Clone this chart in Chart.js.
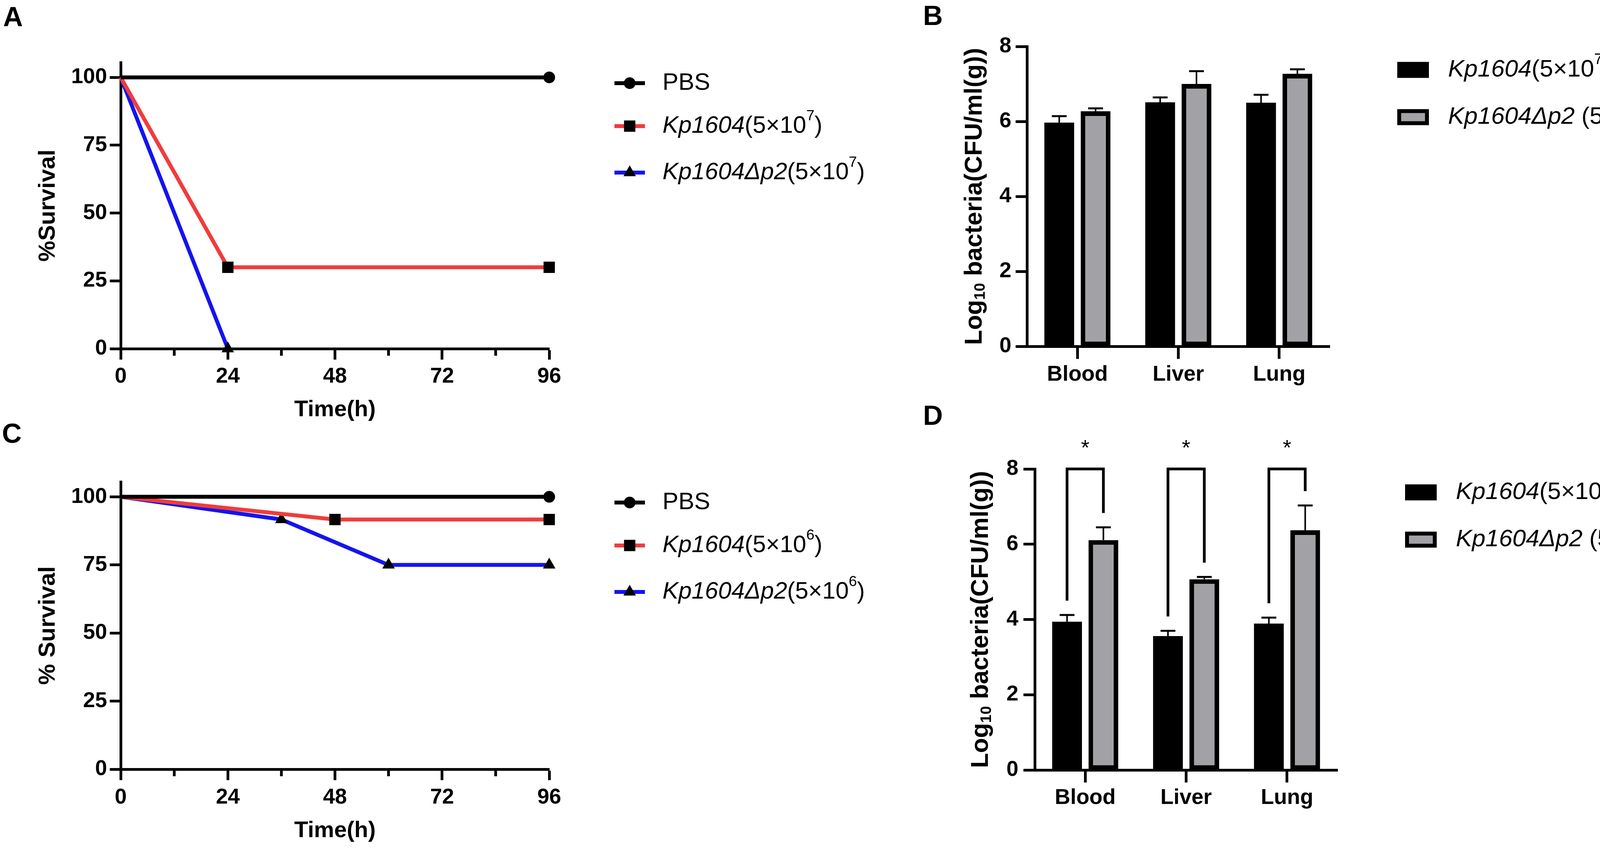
<!DOCTYPE html>
<html>
<head>
<meta charset="utf-8">
<script src="https://cdn.jsdelivr.net/npm/chart.js@4.4.1/dist/chart.umd.min.js"></script>
<style>
  html, body { margin: 0; padding: 0; background: #fff; }
  body { position: relative; width: 4317px; height: 2182px; overflow: hidden; font-family: "Liberation Sans", Arial, sans-serif; }
  canvas { position: absolute; }
  .tag { position: absolute; font-weight: bold; font-size: 70px; line-height: 70px; color: #000; }
</style>
</head>
<body>
<div class="tag" style="left:8px;top:8px">A</div>
<div class="tag" style="left:2363px;top:5px">B</div>
<div class="tag" style="left:5px;top:1075px">C</div>
<div class="tag" style="left:2363px;top:1029px">D</div>

<canvas id="chartA" width="2350" height="1090" style="left:0;top:0;width:2350px;height:1090px"></canvas>
<canvas id="chartB" width="1957" height="1090" style="left:2360px;top:0;width:1957px;height:1090px"></canvas>
<canvas id="chartC" width="2350" height="1092" style="left:0;top:1090px;width:2350px;height:1092px"></canvas>
<canvas id="chartD" width="1957" height="1092" style="left:2360px;top:1090px;width:1957px;height:1092px"></canvas>

<script>
const FAMILY = "'Liberation Sans', Arial, sans-serif";

// axis ticks
const timeTicks = [0, 24, 48, 72, 96];
const timeMinorTicks = [12, 36, 60, 84];
const survivalTicks = [0, 25, 50, 75, 100];
const cfuTicks = [0, 2, 4, 6, 8];
const organs = ['Blood', 'Liver', 'Lung'];

// A: survival, 5x10^7 challenge
const pbsA_h = [0, 96];        const pbsA_s = [100, 100];
const kpA_h = [0, 24, 96];     const kpA_s = [100, 30, 30];
const dp2A_h = [0, 24];        const dp2A_s = [100, 0];

// C: survival, 5x10^6 challenge
const pbsC_h = [0, 96];          const pbsC_s = [100, 100];
const kpC_h = [0, 48, 96];       const kpC_s = [100, 91.67, 91.67];
const dp2C_h = [0, 36, 60, 96];  const dp2C_s = [100, 91.67, 75, 75];

// B: bacterial load, 5x10^7 (mean, SEM)
const kpB_mean = [5.97, 6.51, 6.50];   const kpB_sem = [0.17, 0.13, 0.21];
const dp2B_mean = [6.27, 7.00, 7.27];  const dp2B_sem = [0.08, 0.34, 0.12];

// D: bacterial load, 5x10^6 (mean, SEM)
const kpD_mean = [3.94, 3.56, 3.89];   const kpD_sem = [0.18, 0.14, 0.16];
const dp2D_mean = [6.11, 5.07, 6.37];  const dp2D_sem = [0.34, 0.06, 0.66];
const sigD = ['*', '*', '*'];

// legend texts (runs: i = italic, sup = superscript)
const legendA = [
  [{t: 'PBS'}],
  [{t: 'Kp1604', i: 1}, {t: '(5×10'}, {t: '7', sup: 1}, {t: ')'}],
  [{t: 'Kp1604Δp2', i: 1}, {t: '(5×10'}, {t: '7', sup: 1}, {t: ')'}]
];
const legendC = [
  [{t: 'PBS'}],
  [{t: 'Kp1604', i: 1}, {t: '(5×10'}, {t: '6', sup: 1}, {t: ')'}],
  [{t: 'Kp1604Δp2', i: 1}, {t: '(5×10'}, {t: '6', sup: 1}, {t: ')'}]
];
const legendB = [
  [{t: 'Kp1604', i: 1}, {t: '(5×10'}, {t: '7', sup: 1}, {t: ')'}],
  [{t: 'Kp1604Δp2', i: 1}, {t: ' (5×10'}, {t: '7', sup: 1}, {t: ')'}]
];
const legendD = [
  [{t: 'Kp1604', i: 1}, {t: '(5×10'}, {t: '6', sup: 1}, {t: ')'}],
  [{t: 'Kp1604Δp2', i: 1}, {t: ' (5×10'}, {t: '6', sup: 1}, {t: ')'}]
];
const cfuTitle = [{t: 'Log'}, {t: '10', sub: 1}, {t: ' bacteria(CFU/ml(g))'}];

const RED = '#f03c3c';
const BLUE = '#1414ee';
const GRAY = '#a2a1a6';

const tickFont = { family: FAMILY, size: 55, weight: 'bold' };
const titleFont = { family: FAMILY, size: 58, weight: 'bold' };

// draw a row of mixed-style text; y is the vertical middle
function drawRuns(ctx, runs, x, y, size, bold, align) {
  const parts = runs.map(r => {
    const s = (r.sup || r.sub) ? size * 0.62 : size;
    const font = (r.i ? 'italic ' : '') + (bold ? 'bold ' : '') + s + 'px ' + FAMILY;
    ctx.font = font;
    return { r, font, w: ctx.measureText(r.t).width, dy: r.sup ? -size * 0.42 : (r.sub ? size * 0.22 : 0) };
  });
  const total = parts.reduce((a, p) => a + p.w, 0);
  let cx = align === 'center' ? x - total / 2 : x;
  ctx.textAlign = 'left';
  ctx.textBaseline = 'middle';
  ctx.fillStyle = '#000';
  parts.forEach(p => {
    ctx.font = p.font;
    ctx.fillText(p.r.t, cx, y + p.dy);
    cx += p.w;
  });
}

function drawMarker(ctx, style, x, y, r) {
  ctx.beginPath();
  if (style === 'circle') {
    ctx.arc(x, y, r, 0, Math.PI * 2);
  } else if (style === 'rect') {
    const h = Math.SQRT1_2 * r;
    ctx.rect(x - h, y - h, 2 * h, 2 * h);
  } else {
    let a = 0;
    ctx.moveTo(x + Math.sin(a) * r, y - Math.cos(a) * r);
    a += Math.PI * 2 / 3;
    ctx.lineTo(x + Math.sin(a) * r, y - Math.cos(a) * r);
    a += Math.PI * 2 / 3;
    ctx.lineTo(x + Math.sin(a) * r, y - Math.cos(a) * r);
    ctx.closePath();
  }
  ctx.fillStyle = '#000';
  ctx.fill();
}

// shorter unlabeled ticks between the hour labels
const minorTicks = {
  id: 'minorTicks',
  afterDraw(chart) {
    const { ctx, chartArea, scales: { x } } = chart;
    ctx.save();
    ctx.strokeStyle = '#000';
    ctx.lineWidth = 7;
    timeMinorTicks.forEach(v => {
      const px = x.getPixelForValue(v);
      ctx.beginPath();
      ctx.moveTo(px, chartArea.bottom);
      ctx.lineTo(px, chartArea.bottom + 18);
      ctx.stroke();
    });
    ctx.restore();
  }
};

function lineLegend(rows) {
  const rowOffsets = [53, 163, 282];
  return {
    id: 'lineLegend',
    afterDraw(chart) {
      const { ctx, chartArea } = chart;
      ctx.save();
      chart.data.datasets.forEach((ds, i) => {
        const y = chartArea.top + rowOffsets[i];
        const x0 = chartArea.right + 167, x1 = chartArea.right + 245;
        ctx.strokeStyle = ds.borderColor;
        ctx.lineWidth = 10;
        ctx.beginPath();
        ctx.moveTo(x0, y);
        ctx.lineTo(x1, y);
        ctx.stroke();
        drawMarker(ctx, ds.pointStyle, (x0 + x1) / 2, y, ds.markR);
        drawRuns(ctx, rows[i], chartArea.right + 290, y, 61, false, 'left');
      });
      ctx.restore();
    }
  };
}

function barLegend(rows) {
  const rowOffsets = [60, 181];
  return {
    id: 'barLegend',
    afterDraw(chart) {
      const { ctx, chartArea } = chart;
      ctx.save();
      chart.data.datasets.forEach((ds, i) => {
        const y = chartArea.top + rowOffsets[i];
        const x0 = chartArea.right + 173, w = 81, h = 41;
        ctx.fillStyle = '#000';
        ctx.fillRect(x0, y - h / 2, w, h);
        if (ds.borderWidth) {
          ctx.fillStyle = ds.backgroundColor;
          ctx.fillRect(x0 + 10, y - h / 2 + 10, w - 20, h - 20);
        }
        drawRuns(ctx, rows[i], chartArea.right + 303, y, 62, false, 'left');
      });
      ctx.restore();
    }
  };
}

// upward SEM whiskers
const errorBars = {
  id: 'errorBars',
  afterDatasetsDraw(chart) {
    const { ctx, scales: { y } } = chart;
    ctx.save();
    ctx.strokeStyle = '#000';
    chart.data.datasets.forEach((ds, i) => {
      chart.getDatasetMeta(i).data.forEach((bar, j) => {
        const top = y.getPixelForValue(ds.data[j] + ds.err[j]);
        ctx.lineWidth = 4;
        ctx.beginPath();
        ctx.moveTo(bar.x, bar.y);
        ctx.lineTo(bar.x, top);
        ctx.stroke();
        ctx.lineWidth = 5;
        ctx.beginPath();
        ctx.moveTo(bar.x - 19, top);
        ctx.lineTo(bar.x + 19, top);
        ctx.stroke();
      });
    });
    ctx.restore();
  }
};

function yTitle(runs, dx) {
  return {
    id: 'yTitle',
    afterDraw(chart) {
      const { ctx, chartArea } = chart;
      ctx.save();
      ctx.translate(chartArea.left + dx, (chartArea.top + chartArea.bottom) / 2);
      ctx.rotate(-Math.PI / 2);
      drawRuns(ctx, runs, 0, 0, 63, true, 'center');
      ctx.restore();
    }
  };
}

// significance brackets above each pair of bars
function brackets(marks, top, gap) {
  return {
    id: 'brackets',
    afterDatasetsDraw(chart) {
      const { ctx, scales: { y } } = chart;
      const [a, b] = chart.data.datasets;
      const ma = chart.getDatasetMeta(0).data, mb = chart.getDatasetMeta(1).data;
      ctx.save();
      ctx.strokeStyle = '#000';
      ctx.lineWidth = 7;
      ctx.lineJoin = 'miter';
      marks.forEach((m, j) => {
        const yt = y.getPixelForValue(top);
        const y1 = y.getPixelForValue(a.data[j] + a.err[j] + gap);
        const y2 = y.getPixelForValue(b.data[j] + b.err[j] + gap);
        ctx.beginPath();
        ctx.moveTo(ma[j].x, y1);
        ctx.lineTo(ma[j].x, yt);
        ctx.lineTo(mb[j].x, yt);
        ctx.lineTo(mb[j].x, y2);
        ctx.stroke();
        ctx.font = '56px ' + FAMILY;
        ctx.fillStyle = '#000';
        ctx.textAlign = 'center';
        ctx.textBaseline = 'alphabetic';
        ctx.fillText(m, (ma[j].x + mb[j].x) / 2, yt - 36);
      });
      ctx.restore();
    }
  };
}

function axisLook(tickLen) {
  return {
    grid: { drawOnChartArea: false, drawTicks: true, tickLength: tickLen, tickWidth: 7, tickColor: '#000' },
    border: { display: true, color: '#000', width: 7 }
  };
}

function series(label, hours, surv, color, marker, r) {
  return {
    label,
    data: hours.map((h, k) => ({ x: h, y: surv[k] })),
    borderColor: color,
    backgroundColor: color,
    borderWidth: 10,
    pointStyle: marker,
    markR: r,
    pointRadius: c => (c.raw && c.raw.x === 0 ? 0 : r),
    pointHoverRadius: 0,
    pointBackgroundColor: '#000',
    pointBorderWidth: 0,
    tension: 0,
    fill: false,
    clip: false
  };
}

function survivalChart(id, datasets, o) {
  return new Chart(document.getElementById(id), {
    type: 'line',
    data: { datasets },
    options: {
      responsive: false,
      animation: false,
      devicePixelRatio: 1,
      events: [],
      layout: { padding: { left: 0, top: o.top, right: o.right, bottom: 0 } },
      plugins: { legend: { display: false }, tooltip: { enabled: false } },
      scales: {
        x: {
          type: 'linear', min: 0, max: 96,
          afterBuildTicks: s => { s.ticks = timeTicks.map(v => ({ value: v })); },
          afterFit: s => { s.height = o.xh; },
          ticks: { font: tickFont, color: '#000', padding: o.xpad, maxRotation: 0, autoSkip: false },
          ...axisLook(28),
          title: { display: true, text: 'Time(h)', font: titleFont, color: '#000', padding: { top: 0, bottom: o.xtp } }
        },
        y: {
          type: 'linear', min: 0, max: 105.5,
          afterBuildTicks: s => { s.ticks = survivalTicks.map(v => ({ value: v })); },
          afterFit: s => { s.width = 309; },
          ticks: { font: tickFont, color: '#000', padding: 7 },
          ...axisLook(28),
          title: { display: true, text: o.ytitle, font: { ...titleFont, size: 60 }, color: '#000', padding: { top: 87, bottom: 0 } }
        }
      }
    },
    plugins: [minorTicks, lineLegend(o.legend)]
  });
}

function loadChart(id, kpMean, kpSem, dMean, dSem, o) {
  const extra = o.sig ? [brackets(o.sig, 8, 0.38)] : [];
  return new Chart(document.getElementById(id), {
    type: 'bar',
    data: {
      labels: organs,
      datasets: [
        { label: 'Kp1604', data: kpMean, err: kpSem, backgroundColor: '#000', borderColor: '#000', borderWidth: 0 },
        { label: 'Kp1604Δp2', data: dMean, err: dSem, backgroundColor: GRAY, borderColor: '#000', borderWidth: 12, borderSkipped: false }
      ]
    },
    options: {
      responsive: false,
      animation: false,
      devicePixelRatio: 1,
      events: [],
      categoryPercentage: 0.72,
      barPercentage: 0.82,
      layout: { padding: { left: 0, top: o.top, right: o.right, bottom: 0 } },
      plugins: { legend: { display: false }, tooltip: { enabled: false } },
      scales: {
        x: {
          offset: true,
          afterFit: s => { s.height = o.xh; },
          ticks: { font: tickFont, color: '#000', padding: o.xpad, maxRotation: 0 },
          ...axisLook(32),
          grid: { offset: false, drawOnChartArea: false, tickLength: 32, tickWidth: 7, tickColor: '#000' }
        },
        y: {
          min: 0, max: 8,
          afterBuildTicks: s => { s.ticks = cfuTicks.map(v => ({ value: v })); },
          afterFit: s => { s.width = o.yw; },
          ticks: { font: tickFont, color: '#000', padding: o.ypad },
          ...axisLook(29)
        }
      }
    },
    plugins: [errorBars, ...extra, yTitle(cfuTitle, o.titleDx), barLegend(o.legend)]
  });
}

survivalChart('chartA', [
  series('PBS', pbsA_h, pbsA_s, '#000', 'circle', 15),
  series('Kp1604(5×10^7)', kpA_h, kpA_s, RED, 'rect', 20.5),
  series('Kp1604Δp2(5×10^7)', dp2A_h, dp2A_s, BLUE, 'triangle', 18.5)
], { top: 160, right: 944, xh: 197, xpad: 11, xtp: 5, ytitle: '%Survival', legend: legendA });

survivalChart('chartC', [
  series('PBS', pbsC_h, pbsC_s, '#000', 'circle', 15),
  series('Kp1604(5×10^6)', kpC_h, kpC_s, RED, 'rect', 20.5),
  series('Kp1604Δp2(5×10^6)', dp2C_h, dp2C_s, BLUE, 'triangle', 18.5)
], { top: 144, right: 944, xh: 212, xpad: 12, xtp: 19, ytitle: '% Survival', legend: legendC });

loadChart('chartB', kpB_mean, kpB_sem, dp2B_mean, dp2B_sem,
  { top: 119, right: 913, yw: 269, xh: 203, xpad: 8, ypad: 11, titleDx: -133, legend: legendB });

loadChart('chartD', kpD_mean, kpD_sem, dp2D_mean, dp2D_sem,
  { top: 111, right: 893, yw: 289, xh: 210, xpad: 7, ypad: 13, titleDx: -137, legend: legendD, sig: sigD });
</script>
</body>
</html>
